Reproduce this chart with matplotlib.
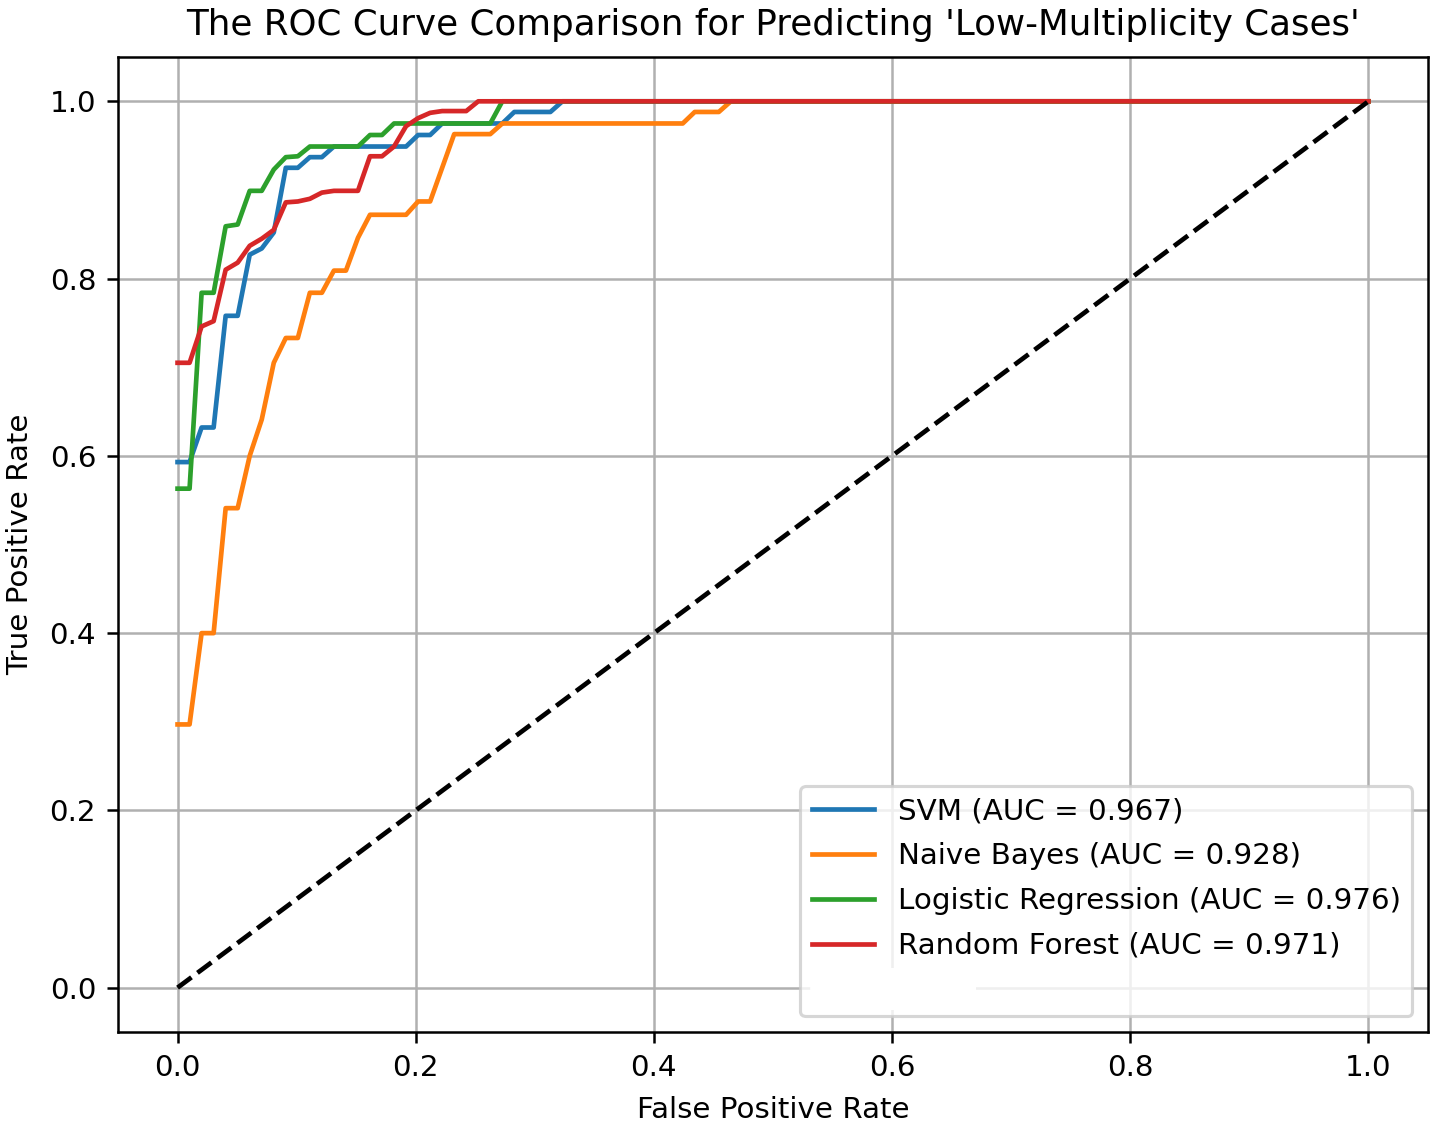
import matplotlib
matplotlib.use("Agg")
import matplotlib.pyplot as plt
from matplotlib.lines import Line2D
from matplotlib.patches import Rectangle

title = "The ROC Curve Comparison for Predicting 'Low-Multiplicity Cases'"
model_names = ["SVM", "Naive Bayes", "Logistic Regression", "Random Forest"]
auc_values = [0.967, 0.928, 0.976, 0.971]

svm_fpr = [0.0, 0.0101, 0.0202, 0.0303, 0.0404, 0.0505, 0.0606, 0.0707, 0.0808, 0.0909, 0.1010,
           0.1111, 0.1212, 0.1313, 0.1919, 0.2020, 0.2121, 0.2222, 0.2727, 0.2828, 0.3131, 0.3232, 1.0]
svm_tpr = [0.593, 0.593, 0.632, 0.632, 0.758, 0.758, 0.827, 0.834, 0.852, 0.925, 0.925,
           0.937, 0.937, 0.949, 0.949, 0.962, 0.962, 0.975, 0.975, 0.988, 0.988, 1.0, 1.0]

nb_fpr = [0.0, 0.0101, 0.0202, 0.0303, 0.0404, 0.0505, 0.0606, 0.0707, 0.0808, 0.0909, 0.1010,
          0.1111, 0.1212, 0.1313, 0.1414, 0.1515, 0.1616, 0.1919, 0.2020, 0.2121, 0.2323, 0.2626,
          0.2727, 0.4242, 0.4343, 0.4545, 0.4646, 1.0]
nb_tpr = [0.297, 0.297, 0.400, 0.400, 0.541, 0.541, 0.600, 0.641, 0.705, 0.733, 0.733,
          0.784, 0.784, 0.809, 0.809, 0.846, 0.872, 0.872, 0.887, 0.887, 0.963, 0.963,
          0.975, 0.975, 0.988, 0.988, 1.0, 1.0]

lr_fpr = [0.0, 0.0101, 0.0202, 0.0303, 0.0404, 0.0505, 0.0606, 0.0707, 0.0808, 0.0909, 0.1010,
          0.1111, 0.1515, 0.1616, 0.1717, 0.1818, 0.2626, 0.2727, 1.0]
lr_tpr = [0.563, 0.563, 0.784, 0.784, 0.859, 0.861, 0.899, 0.899, 0.923, 0.937, 0.938,
          0.949, 0.949, 0.962, 0.962, 0.975, 0.975, 1.0, 1.0]

rf_fpr = [0.0, 0.0101, 0.0202, 0.0303, 0.0404, 0.0505, 0.0606, 0.0707, 0.0808, 0.0909, 0.1010,
          0.1111, 0.1212, 0.1313, 0.1515, 0.1616, 0.1717, 0.1818, 0.1919, 0.2020, 0.2121, 0.2222,
          0.2424, 0.2525, 1.0]
rf_tpr = [0.705, 0.705, 0.746, 0.752, 0.810, 0.818, 0.837, 0.845, 0.855, 0.886, 0.887,
          0.890, 0.897, 0.899, 0.899, 0.938, 0.938, 0.949, 0.972, 0.981, 0.987, 0.989,
          0.989, 1.0, 1.0]

curves = [(svm_fpr, svm_tpr), (nb_fpr, nb_tpr), (lr_fpr, lr_tpr), (rf_fpr, rf_tpr)]
colors = ["#1f77b4", "#ff7f0e", "#2ca02c", "#d62728"]

FS = 9.4
plt.rcParams.update({"font.size": FS, "axes.titlesize": 11.4, "axes.labelsize": FS,
                     "xtick.labelsize": FS, "ytick.labelsize": FS, "legend.fontsize": FS})

W, H, DPI = 1441, 1124, 225
fig = plt.figure(figsize=(W / DPI, H / DPI), dpi=DPI)
ax = fig.add_axes([118 / W, 1 - 1032 / H, (1428 - 118) / W, (1032 - 57) / H])

handles = []
for (fpr, tpr), name, auc, c in zip(curves, model_names, auc_values, colors):
    h, = ax.plot(fpr, tpr, color=c, lw=1.5, label=f"{name} (AUC = {auc:.3f})")
    handles.append(h)
ax.plot([0, 1], [0, 1], "k--", lw=1.5)

blank = Line2D([], [], color="white", lw=1.5)
handles.append(blank)
labels = [h.get_label() for h in handles[:4]] + [" "]
leg = ax.legend(handles, labels, loc="lower right", handlelength=2.13,
                labelspacing=0.57, borderaxespad=0.53)

ax.set_xlabel("False Positive Rate", labelpad=4.5)
ax.set_ylabel("True Positive Rate", labelpad=5)
ax.set_title(title, pad=7)
ax.grid(True)

# opaque white area inside the legend's last (blank) row
fig.patches.append(Rectangle((814 / W, 1 - 1010 / H), (976 - 814) / W, (1010 - 968) / H,
                             transform=fig.transFigure, facecolor="white",
                             edgecolor="none", zorder=10))

fig.savefig("out.png", dpi=DPI)
